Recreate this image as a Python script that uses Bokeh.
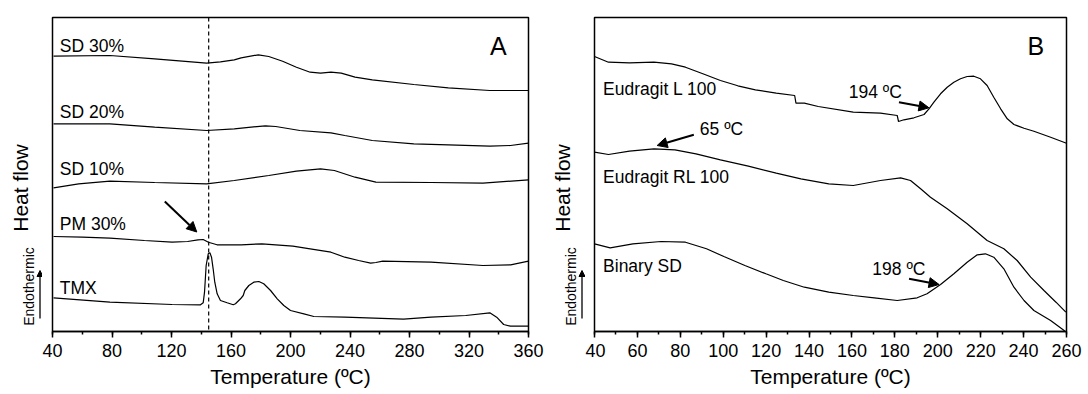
import numpy as np
from bokeh.plotting import figure
from bokeh.layouts import row
from bokeh.models import Label, Arrow, NormalHead, Span, SingleIntervalTicker, Range1d
from bokeh.embed import file_html
from bokeh.resources import INLINE

FONT = "Liberation Sans"

# ---------------- Panel A data (temperature in ºC, heat flow in arbitrary units) ----------------
sd30_t = [40.7, 78.6, 108.7, 143.6, 152.9, 162.2, 166.8, 178.4, 185.4, 194.7, 204, 213.2, 220.2, 227.2,
          234.1, 243.4, 255, 282.9, 306.1, 334, 360]
sd30_y = [275.3, 276, 272.7, 268.3, 269.7, 271.7, 273.7, 276.7, 275, 270.3, 264.3, 259.3, 258.3, 259.3,
          258.3, 254.3, 251.7, 247, 243.7, 241, 241]

sd20_t = [40.7, 78.6, 108.7, 143.6, 162.2, 183.1, 190.1, 206.3, 227.2, 236.5, 255, 282.9, 306.1, 334, 347.9, 360]
sd20_y = [207.7, 207.7, 204.3, 201, 202.7, 205.7, 205, 201, 198.7, 196, 191, 187.7, 186.7, 185.3, 186, 188.3]

sd10_t = [40.7, 57.6, 78.6, 108.7, 143.6, 162.2, 185.4, 204, 220.2, 229.5, 243.4, 257.4, 294.5, 329.4, 360]
sd10_y = [143.7, 147.7, 150.3, 149, 147.7, 151, 156, 160.3, 162.7, 161, 154.3, 149.3, 149, 148.3, 151.7]

pm30_t = [40.7, 60, 78.6, 101.8, 120.4, 130.8, 137.8, 141.3, 144.8, 150.6, 166.8, 180.8, 201.6, 213.2,
          227.2, 236.5, 245.8, 253.9, 257.4, 262, 294.5, 329.4, 348, 360]
pm30_y = [95, 94.3, 93.3, 91, 89.3, 90, 91.7, 92, 89.3, 86.7, 86.7, 87.7, 85.3, 82.7,
          79.3, 74.3, 71, 68.3, 69, 70.3, 69.3, 66, 66.7, 70.3]

tmx_t = [40.7, 78.6, 120.4, 139.5, 141.3, 142.2, 143.3, 144.7, 145.8, 146.9, 148, 149.1, 150.7, 152.9,
         157.4, 161.5, 163, 166.4, 168.2, 169.3, 172, 175.3, 178.7, 182, 186.6, 191.1, 195.5, 200,
         209, 215.7, 236.5, 276, 294.5, 317.8, 334, 338.6, 343.3, 347.9, 360]
tmx_y = [33.7, 29.3, 27, 26.7, 28.7, 39.3, 66, 77.7, 78.7, 74.3, 62.7, 49.3, 37.7, 31,
         28.7, 26.7, 27.7, 32.7, 36, 41, 46, 49.3, 50, 47.7, 41, 32.7, 26, 21,
         17.7, 15, 14.3, 12.3, 14.3, 16, 18.7, 14.3, 7, 5.3, 5.3]

a_curves = [(sd30_t, sd30_y), (sd20_t, sd20_y), (sd10_t, sd10_y), (pm30_t, pm30_y), (tmx_t, tmx_y)]
a_names = ["SD 30%", "SD 20%", "SD 10%", "PM 30%", "TMX"]
a_name_y = [286, 219.3, 162.7, 107.7, 43.7]
tmx_melt = 145

# ---------------- Panel B data ----------------
el_t = [40, 46.5, 56.3, 67.7, 75.9, 82.4, 90.5, 98.7, 106.8, 115, 124.7, 133.3, 133.9, 137.8, 144.3,
        160.6, 173.3, 181.1, 181.7, 184.2, 188.9, 193.6, 195.9, 198.2, 201.3, 204.4, 207.5, 210.6,
        213.7, 216.8, 219.9, 223, 226.1, 229.3, 232.4, 235.5, 240.2, 244.8, 252.6, 260]
el_y = [275, 269.3, 268.7, 269.3, 267.7, 264.3, 257.7, 251, 245.7, 241.7, 238.3, 236, 228.3, 228.3, 225,
        219.3, 218.3, 216, 210, 211.7, 213.7, 217, 222.7, 229.3, 237.7, 244.3, 249.3, 252.7,
        255, 255.3, 252.7, 246, 234.3, 222.7, 212.7, 207, 203.3, 200.3, 194.3, 188.3]

erl_t = [40, 46.5, 56.3, 67.7, 77.5, 87.3, 98.7, 111.7, 124.7, 136.2, 149.2, 160.6, 173.3, 182.7,
         187.3, 192, 196.6, 204.4, 213.7, 223, 230.8, 237, 243.3, 249.5, 255.1, 259.7]
erl_y = [179.3, 177, 180.3, 182.7, 181.7, 177.7, 171.7, 165.3, 158.3, 152.7, 147.7, 146, 151, 153.7,
         151, 142.7, 134.3, 122.7, 107.7, 91, 82.7, 71, 54.3, 41, 29.3, 19.3]

bsd_t = [40, 47.3, 57.9, 71, 82.4, 92.2, 100.3, 110.1, 119.9, 128, 137.8, 149.2, 160.6, 170.4, 181.1,
         190.4, 195, 201.3, 207.5, 213.7, 218.4, 222.2, 226.1, 230.8, 235.5, 240.2, 244.8, 252.6, 259.2]
bsd_y = [87.7, 83.7, 87.7, 90, 89.3, 82.7, 75, 66, 57.7, 51, 44.3, 39.3, 36, 33.7, 31,
         33.7, 37.7, 47, 57.7, 69.3, 76.7, 77.7, 74.3, 62.7, 44.3, 31, 21, 11, 0.5]

b_curves = [(el_t, el_y), (erl_t, erl_y), (bsd_t, bsd_y)]
b_names = ["Eudragit L 100", "Eudragit RL 100", "Binary SD"]
b_name_y = [242.2, 154.3, 66]
b_notes = ["194 ºC", "65 ºC", "198 ºC"]
b_note_x = [158.5, 89.1, 169.5]
b_note_y = [239.3, 202.2, 62.7]

H = 392
TOP = 17
BOTTOM = 61
YMAX = 314


def make_strip(width, hf_x, en_x, ar_x):
    # Narrow companion figure carrying the y-axis caption; same vertical frame as the panels.
    s = figure(width=width, height=H, x_range=Range1d(0, width), y_range=Range1d(0, YMAX),
               output_backend="svg", toolbar_location=None, x_axis_type=None, y_axis_type=None,
               min_border_left=0, min_border_right=0, min_border_top=TOP,
               min_border_bottom=BOTTOM)
    s.outline_line_color = None
    s.xgrid.visible = False
    s.ygrid.visible = False
    s.background_fill_color = "white"
    s.border_fill_color = "white"
    s.add_layout(Label(x=hf_x, y=143.5, text="Heat flow", angle=np.pi / 2, text_align="center",
                       text_baseline="middle", text_font=FONT, text_font_size="21px",
                       text_color="black"))
    s.add_layout(Label(x=en_x, y=45, text="Endothermic", angle=np.pi / 2, text_align="center",
                       text_baseline="middle", text_font=FONT, text_font_size="14px",
                       text_color="black"))
    s.add_layout(Arrow(x_start=ar_x, y_start=13, x_end=ar_x, y_end=61, line_width=1.3,
                       line_color="black",
                       end=NormalHead(size=6, fill_color="black", line_color="black", line_width=1)))
    return s


def make_fig(xr, interval, width, bl, br, letter, letter_x):
    p = figure(width=width, height=H, x_range=Range1d(*xr), y_range=Range1d(0, YMAX),
               output_backend="svg", toolbar_location=None,
               min_border_left=bl, min_border_right=br, min_border_top=TOP, min_border_bottom=BOTTOM)
    p.yaxis.visible = False
    p.xgrid.visible = False
    p.ygrid.visible = False
    p.background_fill_color = "white"
    p.border_fill_color = "white"
    p.outline_line_color = "black"
    p.outline_line_width = 1.5
    p.outline_line_alpha = 1
    ax = p.xaxis[0]
    ax.ticker = SingleIntervalTicker(interval=interval, num_minor_ticks=2)
    ax.axis_label = "Temperature (ºC)"
    ax.axis_label_text_font = FONT
    ax.axis_label_text_font_size = "21px"
    ax.axis_label_text_font_style = "normal"
    ax.axis_label_text_color = "black"
    ax.axis_label_standoff = 5
    ax.major_label_text_font = FONT
    ax.major_label_text_font_size = "18px"
    ax.major_label_text_color = "black"
    ax.major_label_standoff = 6
    ax.axis_line_color = "black"
    ax.axis_line_width = 1.5
    ax.major_tick_line_color = "black"
    ax.major_tick_line_width = 1.5
    ax.major_tick_out = 6
    ax.major_tick_in = 0
    ax.minor_tick_line_color = "black"
    ax.minor_tick_line_width = 1.5
    ax.minor_tick_out = 3
    ax.minor_tick_in = 0
    p.add_layout(Label(x=letter_x, y=286, text=letter, text_align="center", text_baseline="middle",
                       text_font=FONT, text_font_size="25px", text_color="black"))
    return p


# ---------------- Panel A ----------------
sa = make_strip(42, 19.7, 28, 39.5)
pa = make_fig((40, 360), 40, 506, 10, 20, "A", 339.8)
for (t, y) in a_curves:
    pa.line(t, y, line_color="black", line_width=1.2)
for name, ny in zip(a_names, a_name_y):
    pa.add_layout(Label(x=44.9, y=ny, text=name, text_align="left", text_baseline="middle",
                        text_font=FONT, text_font_size="17.5px", text_color="black"))
pa.add_layout(Span(location=tmx_melt, dimension="height", line_color="black",
                   line_dash="4 3", line_width=1.2))
pa.add_layout(Arrow(x_start=115.5, y_start=130, x_end=137, y_end=99.5, line_width=2,
                    line_color="black",
                    end=NormalHead(size=10, fill_color="black", line_color="black", line_width=1)))

# ---------------- Panel B ----------------
sb = make_strip(37, 13.7, 22, 33.5)
pb = make_fig((40, 260), 20, 499, 9, 18, "B", 245.7)
for (t, y) in b_curves:
    pb.line(t, y, line_color="black", line_width=1.2)
for name, ny in zip(b_names, b_name_y):
    pb.add_layout(Label(x=44, y=ny, text=name, text_align="left", text_baseline="middle",
                        text_font=FONT, text_font_size="17.5px", text_color="black"))
for note, nx, ny in zip(b_notes, b_note_x, b_note_y):
    pb.add_layout(Label(x=nx, y=ny, text=note, text_align="left", text_baseline="middle",
                        text_font=FONT, text_font_size="17.5px", text_color="black"))
for (xs, ys, xe, ye) in [(181.9, 229.3, 195.9, 223.7), (86.3, 196.7, 69.2, 186), (186.6, 52.7, 200.6, 47)]:
    pb.add_layout(Arrow(x_start=xs, y_start=ys, x_end=xe, y_end=ye, line_width=2,
                        line_color="black",
                        end=NormalHead(size=10, fill_color="black", line_color="black", line_width=1)))

layout = row(sa, pa, sb, pb)
open("out.html", "w").write(file_html(layout, INLINE))
